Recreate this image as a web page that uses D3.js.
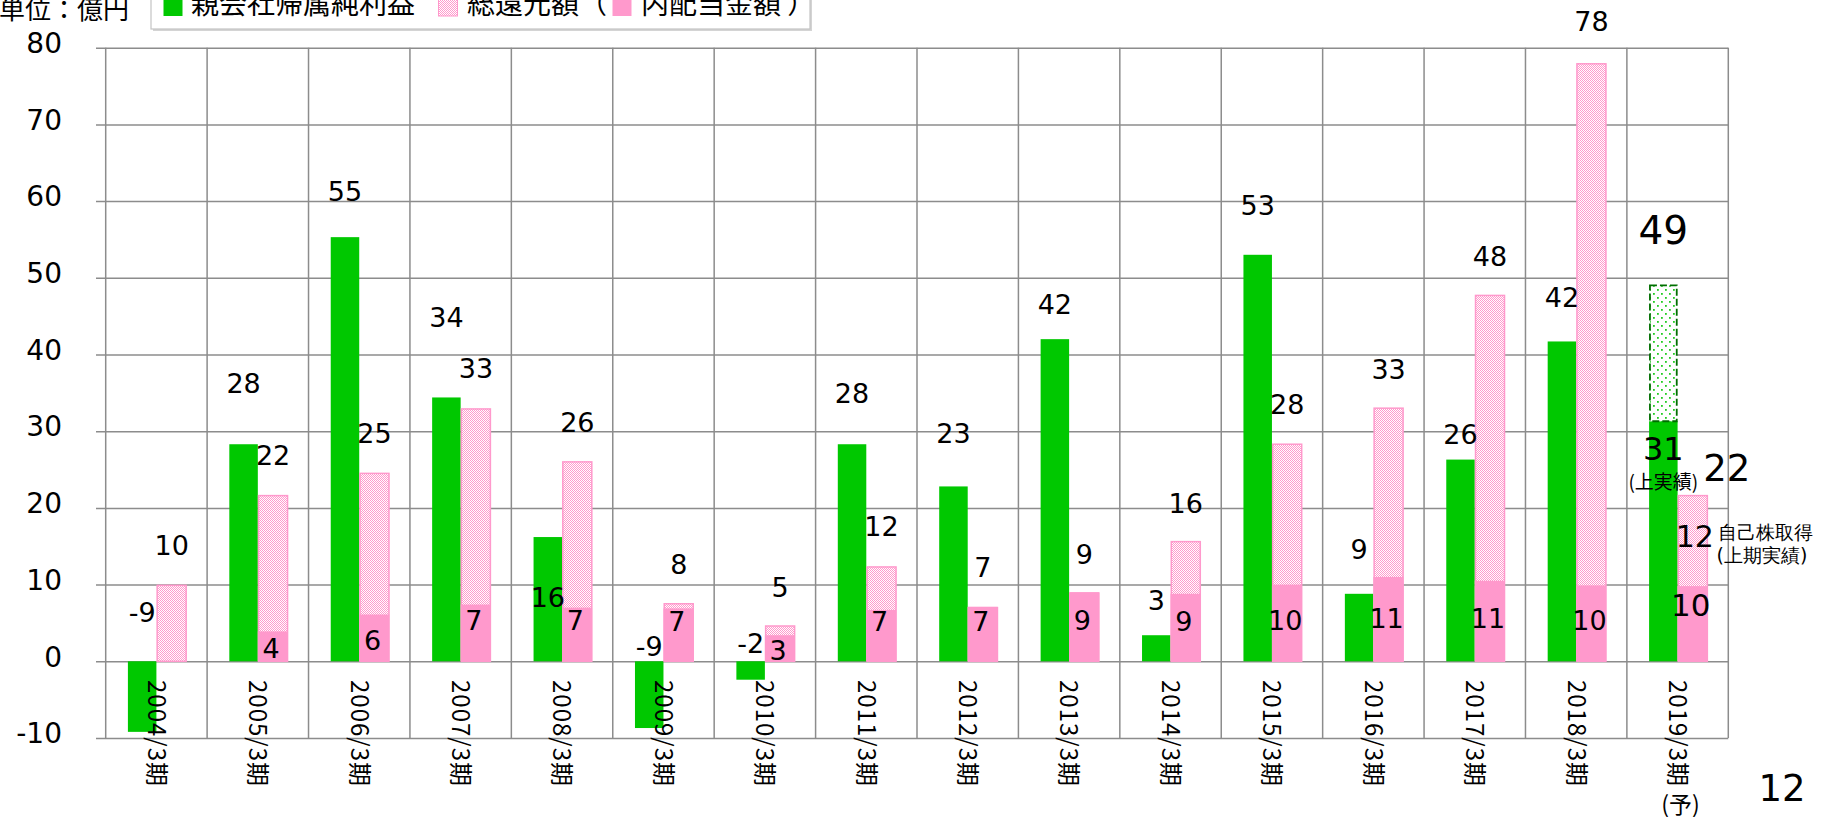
<!DOCTYPE html>
<html>
<head>
<meta charset="utf-8">
<script src="https://cdn.jsdelivr.net/npm/d3@7"></script>
<style>
body { margin: 0; background: #fff; }
svg { display: block; }
text { font-family: "DejaVu Sans", sans-serif; fill: #000; }
.jp { font-family: "Noto Sans CJK JP", sans-serif; }
</style>
</head>
<body>
<svg></svg>
<script>
// data (億円)
var years = ["2004/3期", "2005/3期", "2006/3期", "2007/3期", "2008/3期", "2009/3期", "2010/3期", "2011/3期",
             "2012/3期", "2013/3期", "2014/3期", "2015/3期", "2016/3期", "2017/3期", "2018/3期", "2019/3期"];
var netIncome   = [-9.2, 28.3, 55.3, 34.4, 16.2, -8.7, -2.4, 28.3, 22.8, 42.0, 3.4, 53.0, 8.8, 26.3, 41.7, 31.3];
var totalReturn = [10.0, 21.7, 24.6, 33.0, 26.1, 7.6, 4.7, 12.4, 7.1, 9.0, 15.7, 28.4, 33.1, 47.8, 78.0, 21.7];
var dividends   = [0, 3.9, 6.1, 7.4, 7.0, 6.9, 3.4, 6.7, 7.1, 9.0, 8.8, 10.0, 11.0, 10.5, 9.9, 9.8];
var netForecast = 49;   // 2019 full year forecast
var buyback = 12;       // 2019 自己株取得 (上期実績)
var yTicks = d3.range(-10, 81, 10);
var legendNames = ["親会社帰属純利益", "総還元額（", "内配当金額 ）"];

// label placement (in chart units, as set by hand in the original)
var netLabelAt   = [6.4, 36.3, 61.3, 44.9, 8.3, 2.0, 2.3, 35.0, 29.7, 46.6, 7.9, 59.4, 14.6, 29.6, 47.4, 27.8];
var totalLabelAt = [15.1, 26.9, 29.7, 38.2, 31.2, 12.7, 9.7, 17.6, 12.3, 14.0, 20.6, 33.5, 38.1, 52.8, 83.4, 25.2];
var divLabelAt   = [0, 1.7, 2.8, 5.3, 5.3, 5.2, 1.5, 5.2, 5.2, 5.3, 5.2, 5.3, 5.6, 5.6, 5.3, 7.3];

var screen = {width: 1827, height: 817};
var green = "#00c800", pink = "#ff99cc", grid = "#8c8c8c";
var greenW = 28.5, pinkW = 30.5;
var last = years.length - 1;
var fmt = function(v){ return String(Math.round(v)); };

var svg = d3.select("svg")
    .attr("width", screen.width)
    .attr("height", screen.height);

var x = d3.scaleBand().domain(years).range([105.7, 1728.3]);
var y = d3.scaleLinear().domain([-10, 80]).range([738, 47.7]);
var cx = function(i){ return x(years[i]) + x.bandwidth() / 2; };

// patterns
var defs = svg.append("defs");
var check = defs.append("pattern").attr("id", "check")
    .attr("width", 2).attr("height", 2).attr("patternUnits", "userSpaceOnUse");
check.append("rect").attr("width", 2).attr("height", 2).attr("fill", "#fff");
check.append("rect").attr("width", 1).attr("height", 1).attr("fill", pink);
check.append("rect").attr("x", 1).attr("y", 1).attr("width", 1).attr("height", 1).attr("fill", pink);

var dots = defs.append("pattern").attr("id", "dots")
    .attr("width", 8).attr("height", 8).attr("patternUnits", "userSpaceOnUse");
dots.append("rect").attr("width", 8).attr("height", 8).attr("fill", "#fff");
dots.append("rect").attr("x", 1).attr("y", 1).attr("width", 1.8).attr("height", 1.8).attr("fill", "#22cc22");
dots.append("rect").attr("x", 5).attr("y", 5).attr("width", 1.8).attr("height", 1.8).attr("fill", "#22cc22");

// horizontal grid + y labels
var yAxis = d3.axisLeft(y)
    .tickValues(yTicks)
    .tickFormat(function(d){ return String(d); })
    .tickSize(-(1728.3 - 96))
    .tickPadding(34);
var ya = svg.append("g").attr("transform", "translate(96,0)").call(yAxis);
ya.select(".domain").remove();
ya.selectAll(".tick line").attr("stroke", grid).attr("stroke-width", 1.5);
ya.selectAll(".tick text")
    .attr("font-size", 28).attr("dy", "0.17em")
    .style("font-family", "'DejaVu Sans', sans-serif").attr("fill", "#000");

// vertical separators
var edges = years.map(function(d){ return x(d); }).concat([x.range()[1]]);
svg.append("g").selectAll("line")
    .data(edges)
    .enter()
    .append("line")
    .attr("x1", function(d){ return d; })
    .attr("x2", function(d){ return d; })
    .attr("y1", y(80))
    .attr("y2", y(-10))
    .attr("stroke", grid)
    .attr("stroke-width", 1.5);

// bars
var bars = svg.append("g");
bars.selectAll("rect.net")
    .data(netIncome)
    .enter()
    .append("rect")
    .attr("x", function(d, i){ return cx(i) - greenW; })
    .attr("width", greenW)
    .attr("y", function(d){ return y(Math.max(0, d)); })
    .attr("height", function(d){ return Math.abs(y(d) - y(0)); })
    .attr("fill", green);

bars.selectAll("rect.total")
    .data(totalReturn)
    .enter()
    .append("rect")
    .attr("x", function(d, i){ return cx(i) + 0.75; })
    .attr("width", pinkW - 1.5)
    .attr("y", function(d){ return y(d) + 0.75; })
    .attr("height", function(d){ return y(0) - y(d) - 0.75; })
    .attr("fill", "url(#check)")
    .attr("stroke", pink)
    .attr("stroke-width", 1.5);

bars.selectAll("rect.div")
    .data(dividends)
    .enter()
    .append("rect")
    .attr("x", function(d, i){ return cx(i); })
    .attr("width", pinkW - 0.5)
    .attr("y", function(d){ return y(d); })
    .attr("height", function(d){ return y(0) - y(d); })
    .attr("fill", pink);

// 2019 forecast box on top of the first half result
bars.append("rect")
    .attr("x", cx(last) - greenW + 0.85)
    .attr("width", greenW - 1.7)
    .attr("y", y(netForecast))
    .attr("height", y(netIncome[last]) - y(netForecast))
    .attr("fill", "url(#dots)")
    .attr("stroke", "#006e00")
    .attr("stroke-width", 1.8)
    .attr("stroke-dasharray", "7,3");

// data labels
var labels = svg.append("g").attr("text-anchor", "middle");
labels.selectAll("text.net")
    .data(netIncome)
    .enter()
    .append("text")
    .attr("x", function(d, i){ return cx(i) - greenW / 2; })
    .attr("y", function(d, i){ return y(netLabelAt[i]); })
    .attr("dy", "0.36em")
    .attr("font-size", function(d, i){ return i === last ? 32 : 27; })
    .text(fmt);

labels.selectAll("text.total")
    .data(totalReturn)
    .enter()
    .append("text")
    .attr("x", function(d, i){ return cx(i) + pinkW / 2 + (i === last ? 34 : 0); })
    .attr("y", function(d, i){ return y(totalLabelAt[i]); })
    .attr("dy", "0.36em")
    .attr("font-size", function(d, i){ return i === last ? 37 : 27; })
    .text(fmt);

labels.selectAll("text.div")
    .data(dividends)
    .enter()
    .append("text")
    .attr("x", function(d, i){ return cx(i) + pinkW / 2 - 2; })
    .attr("y", function(d, i){ return y(divLabelAt[i]); })
    .attr("dy", "0.36em")
    .attr("font-size", function(d, i){ return i === last ? 31 : 27; })
    .text(function(d){ return d > 0 ? fmt(d) : ""; });

// 2019 extras
labels.append("text")
    .attr("x", cx(last) - greenW / 2)
    .attr("y", y(56.3))
    .attr("dy", "0.36em")
    .attr("font-size", 39)
    .text(fmt(netForecast));
labels.append("text")
    .attr("x", cx(last) - greenW / 2)
    .attr("y", y(23.4))
    .attr("dy", "0.36em")
    .attr("class", "jp")
    .attr("font-size", 19)
    .text("(上実績)");
labels.append("text")
    .attr("x", cx(last) + pinkW / 2 + 2)
    .attr("y", y(16.25))
    .attr("dy", "0.36em")
    .attr("font-size", 30)
    .text(fmt(buyback));

var side = svg.append("g").attr("class", "jp").attr("font-size", 19);
side.append("text")
    .attr("x", cx(last) + 40)
    .attr("y", y(16.9))
    .attr("dy", "0.36em")
    .text("自己株取得");
side.append("text")
    .attr("x", cx(last) + 39)
    .attr("y", y(13.9))
    .attr("dy", "0.36em")
    .text("(上期実績)");

// category labels, rotated
svg.append("g").selectAll("text")
    .data(years)
    .enter()
    .append("text")
    .attr("class", "jp")
    .attr("font-size", 24)
    .attr("letter-spacing", 1)
    .attr("transform", function(d){ return "translate(" + (x(d) + x.bandwidth() / 2) + ",680) rotate(90)"; })
    .attr("dy", "0.36em")
    .text(function(d){ return d; });

svg.append("text")
    .attr("class", "jp")
    .attr("font-size", 23)
    .attr("text-anchor", "middle")
    .attr("x", cx(last) + 3)
    .attr("y", 805)
    .attr("dy", "0.36em")
    .text("(予)");

// unit + legend
svg.append("text")
    .attr("class", "jp")
    .attr("font-size", 26)
    .attr("x", -1)
    .attr("y", 19)
    .text("単位：億円");

var legend = svg.append("g");
legend.append("rect").attr("x", 153).attr("y", -20).attr("width", 659).attr("height", 51).attr("fill", "#d4d4d4");
legend.append("rect").attr("x", 151).attr("y", -22).attr("width", 659).attr("height", 51)
    .attr("fill", "#fff").attr("stroke", "#c4c4c4").attr("stroke-width", 1.2);
var swatchX = [163.5, 438.5, 612.5];
var swatchFill = [green, "url(#check)", pink];
var textX = [191, 467, 641];
legendNames.forEach(function(name, i){
    legend.append("rect")
        .attr("x", swatchX[i]).attr("y", -3)
        .attr("width", 19).attr("height", 19)
        .attr("fill", swatchFill[i])
        .attr("stroke", i === 1 ? pink : "none")
        .attr("stroke-width", 1);
    legend.append("text")
        .attr("class", "jp")
        .attr("font-size", 28)
        .attr("x", textX[i])
        .attr("y", 14)
        .text(name);
});

// page number
svg.append("text")
    .attr("x", 1782)
    .attr("y", 788)
    .attr("dy", "0.36em")
    .attr("text-anchor", "middle")
    .attr("font-size", 37)
    .text("12");
</script>
</body>
</html>
